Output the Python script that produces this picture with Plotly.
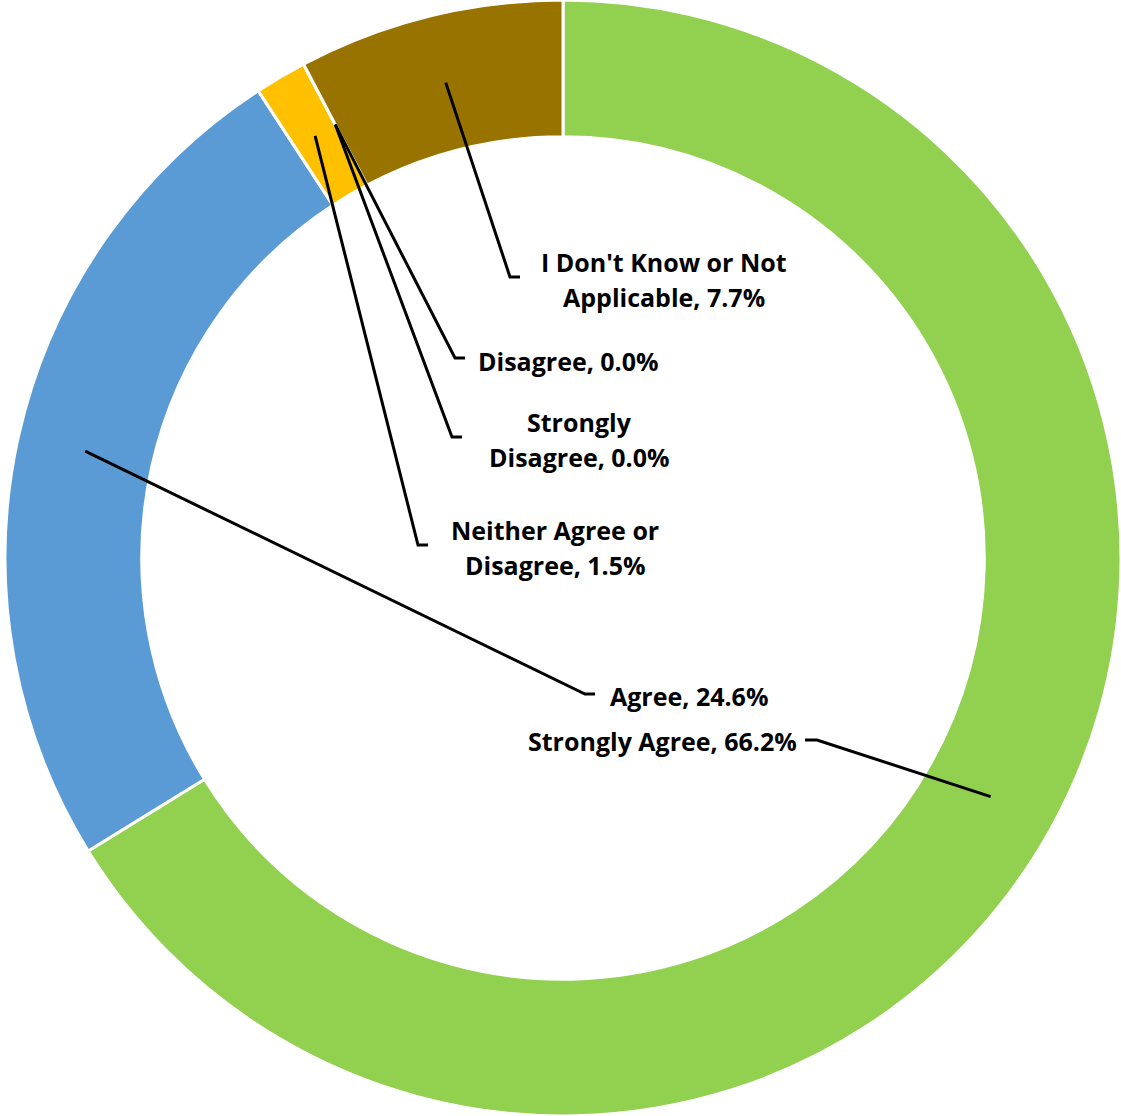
import math

import plotly.graph_objects as go

# Survey responses, clockwise from 12 o'clock.
labels = ["Strongly Agree", "Agree", "Neither Agree or Disagree",
          "Strongly Disagree", "Disagree", "I Don't Know or Not Applicable"]
percents = [66.2, 24.6, 1.5, 0.0, 0.0, 7.7]
colors = ["#92D050", "#5B9BD5", "#FFC000", "#ED7D31", "#A5A5A5", "#997300"]

W, H = 1121, 1116
HOLE = 0.755
DOMAIN_X = (0.0045, 1.0)

# Label placement (pixels): elbow of the leader line, tick direction,
# text anchor point, anchor side, and how many words go on the first line.
label_layout = [
    {"elbow": (817, 740), "tick": -12, "text": (799, 741), "anchor": "right", "brk": None},
    {"elbow": (585, 694), "tick": 10, "text": (608, 696), "anchor": "left", "brk": None},
    {"elbow": (418, 545), "tick": 10, "text": (555, 547), "anchor": "center", "brk": 3},
    {"elbow": (452, 437), "tick": 10, "text": (579, 439), "anchor": "center", "brk": 1},
    {"elbow": (455, 358), "tick": 10, "text": (476, 361), "anchor": "left", "brk": None},
    {"elbow": (510, 277), "tick": 10, "text": (664, 279), "anchor": "center", "brk": 5},
]
FONT = {"family": "'Open Sans', Lato, sans-serif", "size": 25, "color": "#000000"}
LINE_GAP = 35


def px(x, y):
    """Pixel position -> paper coordinates."""
    return x / W, 1 - y / H


fig = go.Figure(go.Pie(
    labels=labels, values=percents, sort=False, direction="clockwise",
    rotation=0, hole=HOLE, textinfo="none", hoverinfo="label+percent",
    marker={"colors": colors, "line": {"color": "#FFFFFF", "width": 3}},
    domain={"x": list(DOMAIN_X), "y": [0, 1]},
))

# Ring geometry in pixels, matching how plotly sizes the pie in its domain.
cx = (DOMAIN_X[0] + DOMAIN_X[1]) / 2 * W
cy = H / 2
r_out = min((DOMAIN_X[1] - DOMAIN_X[0]) * W, H) / 2
r_mid = r_out * (1 + HOLE) / 2

total = sum(percents)
start = 0.0
shapes, annotations = [], []
for name, pct, lay in zip(labels, percents, label_layout):
    mid = math.radians((start + pct / 2) / total * 360)
    start += pct
    sx, sy = cx + r_mid * math.sin(mid), cy - r_mid * math.cos(mid)
    ex, ey = lay["elbow"]
    p0, p1, p2 = px(sx, sy), px(ex, ey), px(ex + lay["tick"], ey)
    shapes.append({
        "type": "path", "xref": "paper", "yref": "paper",
        "path": f"M {p0[0]},{p0[1]} L {p1[0]},{p1[1]} L {p2[0]},{p2[1]}",
        "line": {"color": "#000000", "width": 3},
    })

    words = f"{name}, {pct:.1f}%".split(" ")
    lines = [" ".join(words)] if lay["brk"] is None else \
        [" ".join(words[:lay["brk"]]), " ".join(words[lay["brk"]:])]
    tx, ty = lay["text"]
    ty0 = ty - (len(lines) - 1) * LINE_GAP / 2
    for i, line in enumerate(lines):
        ax, ay = px(tx, ty0 + i * LINE_GAP)
        annotations.append({
            "x": ax, "y": ay, "xref": "paper", "yref": "paper",
            "text": f"<b>{line}</b>", "showarrow": False,
            "xanchor": lay["anchor"], "yanchor": "middle", "font": FONT,
        })

fig.update_layout(
    width=W, height=H, margin={"l": 0, "r": 0, "t": 0, "b": 0},
    paper_bgcolor="#FFFFFF", plot_bgcolor="#FFFFFF", showlegend=False,
    shapes=shapes, annotations=annotations,
)

# Drop the page's default body margin so the figure sits flush at 0,0.
fig.write_html("out.html", config={"displayModeBar": False},
               post_script="document.body.style.margin='0';")
